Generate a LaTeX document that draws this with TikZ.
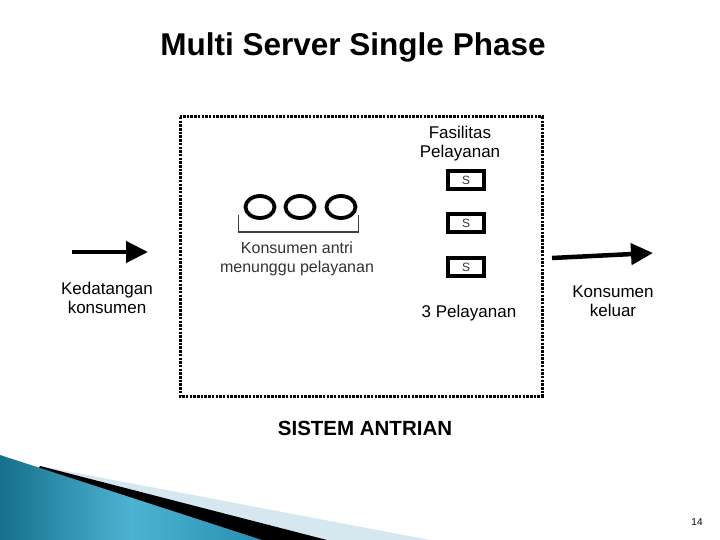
\documentclass[tikz,border=0pt]{standalone}
\usepackage{fontspec}
\setmainfont{Liberation Sans}
\usetikzlibrary{arrows.meta,shapes.geometric}
\definecolor{tealdark}{HTML}{15708C}
\definecolor{teallight}{HTML}{4DB3D3}
\definecolor{tealmid}{HTML}{2590B0}
\definecolor{paleblue}{HTML}{D6E8EF}
\tikzset{
  lbl/.style={inner sep=0pt, align=center, font=\fontsize{17}{19}\selectfont},
  lightlbl/.style={inner sep=0pt, align=center, text=black!80, font=\fontsize{16}{19}\selectfont},
  qcircle/.style={ellipse, draw, line width=3.8pt, minimum width=29pt, minimum height=22pt, inner sep=0pt},
  srv/.style={draw, line width=3.2pt, minimum width=36pt, minimum height=18pt, inner sep=0pt, font=\fontsize{12}{12}\selectfont, text=black!80},
  bigarrow/.style={line width=4.5pt, -{Triangle[length=22pt,width=21pt]}},
  sysbox/.style={line width=3pt, dash pattern=on 2.5pt off 1.2pt}
}
\begin{document}
\begin{tikzpicture}[x=1pt,y=-1pt]
\useasboundingbox (0,0) rectangle (720,540);
% bottom decoration
\fill[paleblue] (40,466) -- (430,540) -- (0,540) -- cycle;
\fill[black] (40,466) -- (327,540) -- (0,540) -- cycle;
\shade[left color=tealdark, right color=tealmid, middle color=teallight] (0,455) -- (262,540) -- (0,540) -- cycle;
% title
\node (title) [inner sep=0pt, font=\fontsize{31.5}{34}\selectfont\bfseries] at (353,47) {Multi Server Single Phase};
% system box
\draw[sysbox] (180,117) rectangle (542,396);
% facility
\node (fas) [lbl] at (460,144) {Fasilitas\\Pelayanan};
\node (s1) [srv] at (466,180) {S};
\node (s2) [srv] at (466,223) {S};
\node (s3) [srv] at (466,267) {S};
\node (tiga) [lbl] at (469,313) {3 Pelayanan};
% queue
\node (c1) [qcircle] at (260,207) {};
\node (c2) [qcircle] at (300,207) {};
\node (c3) [qcircle] at (341,207) {};
\coordinate (bl) at (238,215);
\coordinate (br) at (358,215);
\draw[line width=1pt, black!75] (bl) -- (238,232) -- (358,232) -- (br);
\node (antri) [lightlbl] at (297,259) {Konsumen antri\\menunggu pelayanan};
% arrivals
\coordinate (ina) at (72,252);
\coordinate (inb) at (148,252);
\draw[bigarrow] (ina) -- (inb);
\node (kedat) [lbl] at (107,298) {Kedatangan\\konsumen};
% departures
\coordinate (outa) at (552,258);
\coordinate (outb) at (653,253);
\draw[bigarrow] (outa) -- (outb);
\node (keluar) [lbl] at (613,301) {Konsumen\\keluar};
% system label
\node (sis) [inner sep=0pt, font=\fontsize{20.5}{22}\selectfont\bfseries] at (365,428) {SISTEM ANTRIAN};
% page number
\node (pg) [inner sep=0pt, font=\fontsize{10}{10}\selectfont] at (697,522) {14};
\end{tikzpicture}
\end{document}
